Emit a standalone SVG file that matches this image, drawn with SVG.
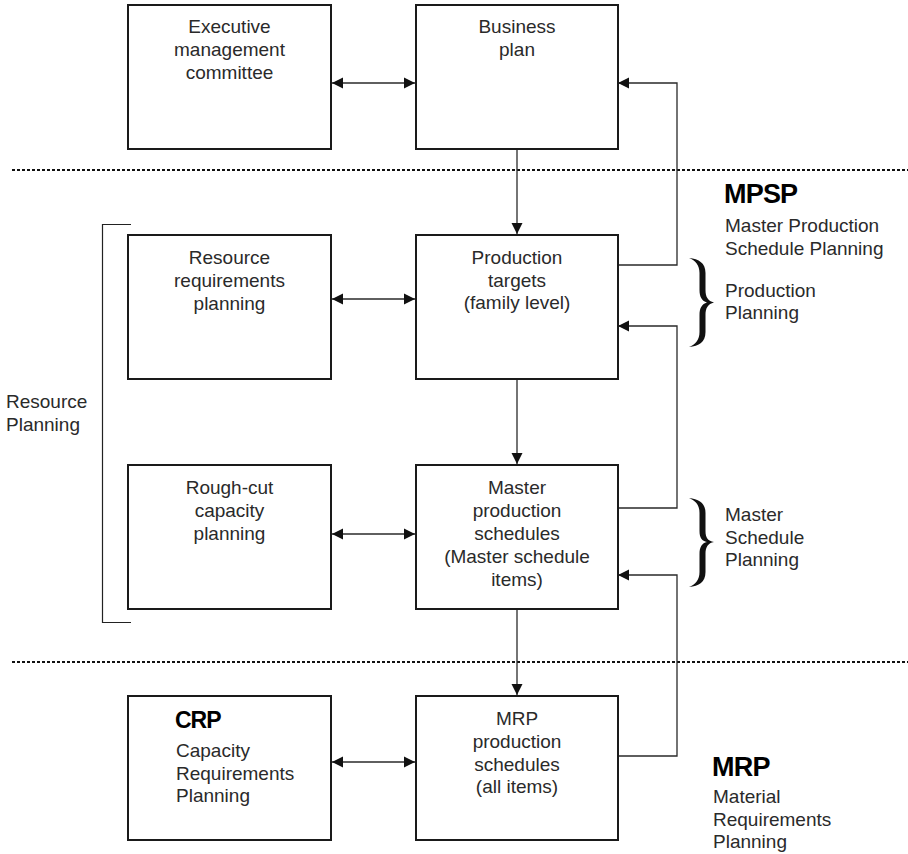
<svg xmlns="http://www.w3.org/2000/svg" width="908" height="854" viewBox="0 0 908 854">
<defs>
<style>
.box{fill:#fff;stroke:#1a1a1a;stroke-width:2}
.t{font-family:"Liberation Sans",Arial,Helvetica,sans-serif;font-size:19px;fill:#2a2a2a}
.c{text-anchor:middle}
.b{font-family:"Liberation Sans",Arial,Helvetica,sans-serif;font-weight:bold;fill:#000}
.ln{fill:none;stroke:#2a2a2a;stroke-width:1.3}
.dot{fill:none;stroke:#111;stroke-width:2;stroke-dasharray:3 2}
.brace{fill:#111}
</style>
<marker id="ah" markerUnits="userSpaceOnUse" markerWidth="12" markerHeight="12" viewBox="0 0 12 12" refX="11" refY="6" orient="auto-start-reverse">
<path d="M0,0.5 L11,6 L0,11.5 Z" fill="#111"/>
</marker>
</defs>
<rect width="908" height="854" fill="#fff"/>

<g id="separators">
<line class="dot" x1="12" y1="170" x2="908" y2="170"/>
<line class="dot" x1="12" y1="662" x2="908" y2="662"/>
</g>

<g id="connectors">
<line class="ln" x1="332" y1="83" x2="415" y2="83" marker-start="url(#ah)" marker-end="url(#ah)"/>
<line class="ln" x1="332" y1="299" x2="415" y2="299" marker-start="url(#ah)" marker-end="url(#ah)"/>
<line class="ln" x1="332" y1="534" x2="415" y2="534" marker-start="url(#ah)" marker-end="url(#ah)"/>
<line class="ln" x1="332" y1="762" x2="415" y2="762" marker-start="url(#ah)" marker-end="url(#ah)"/>
<line class="ln" x1="517" y1="150" x2="517" y2="234" marker-end="url(#ah)"/>
<line class="ln" x1="517" y1="380" x2="517" y2="464" marker-end="url(#ah)"/>
<line class="ln" x1="517" y1="610" x2="517" y2="695" marker-end="url(#ah)"/>
<polyline class="ln" points="618,265 677,265 677,83 618,83" marker-end="url(#ah)"/>
<polyline class="ln" points="618,508 677,508 677,326 618,326" marker-end="url(#ah)"/>
<polyline class="ln" points="618,756 677,756 677,575 618,575" marker-end="url(#ah)"/>
</g>

<g id="exec">
<rect class="box" x="128" y="5" width="203" height="144"/>
<text class="t c" x="229.5" y="33">Executive</text>
<text class="t c" x="229.5" y="56">management</text>
<text class="t c" x="229.5" y="79">committee</text>
</g>

<g id="business-plan">
<rect class="box" x="416" y="5" width="202" height="144"/>
<text class="t c" x="517" y="33">Business</text>
<text class="t c" x="517" y="56">plan</text>
</g>

<g id="resource-req">
<rect class="box" x="128" y="235" width="203" height="144"/>
<text class="t c" x="229.5" y="264">Resource</text>
<text class="t c" x="229.5" y="287">requirements</text>
<text class="t c" x="229.5" y="310">planning</text>
</g>

<g id="production-targets">
<rect class="box" x="416" y="235" width="202" height="144"/>
<text class="t c" x="517" y="264">Production</text>
<text class="t c" x="517" y="286.5">targets</text>
<text class="t c" x="517" y="309">(family level)</text>
</g>

<g id="rough-cut">
<rect class="box" x="128" y="465" width="203" height="144"/>
<text class="t c" x="229.5" y="494">Rough-cut</text>
<text class="t c" x="229.5" y="517">capacity</text>
<text class="t c" x="229.5" y="540">planning</text>
</g>

<g id="master-production">
<rect class="box" x="416" y="465" width="202" height="144"/>
<text class="t c" x="517" y="494">Master</text>
<text class="t c" x="517" y="517">production</text>
<text class="t c" x="517" y="540">schedules</text>
<text class="t c" x="517" y="563">(Master schedule</text>
<text class="t c" x="517" y="586">items)</text>
</g>

<g id="crp">
<rect class="box" x="128" y="696" width="203" height="144"/>
<text class="b" x="175" y="728" font-size="23" letter-spacing="-1">CRP</text>
<text class="t" x="176" y="757">Capacity</text>
<text class="t" x="176" y="780">Requirements</text>
<text class="t" x="176" y="802">Planning</text>
</g>

<g id="mrp-schedules">
<rect class="box" x="416" y="696" width="202" height="144"/>
<text class="t c" x="517" y="725">MRP</text>
<text class="t c" x="517" y="748">production</text>
<text class="t c" x="517" y="770.5">schedules</text>
<text class="t c" x="517" y="793">(all items)</text>
</g>

<g id="resource-planning">
<polyline points="131,224.5 102.5,224.5 102.5,622.5 131,622.5" style="fill:none;stroke:#222;stroke-width:1.2"/>
<text class="t" x="6" y="408">Resource</text>
<text class="t" x="6" y="430.5">Planning</text>
</g>

<g id="mpsp-label">
<text class="b" x="724" y="203" font-size="27" letter-spacing="-0.8">MPSP</text>
<text class="t" x="725" y="232">Master Production</text>
<text class="t" x="725" y="255">Schedule Planning</text>
</g>

<g id="production-planning">
<path class="brace" d="M689,258 C699,259 705.5,263 705.5,273 L705.5,290 C705.5,297 708,301 714,302.5 C708,304 705.5,308 705.5,315 L705.5,332 C705.5,342 699,346 689,347 C695.5,344.5 699.5,340 699.5,332 L699.5,315 C699.5,308 702,304 707,302.5 C702,301 699.5,297 699.5,290 L699.5,273 C699.5,265 695.5,260.5 689,258 Z"/>
<text class="t" x="725" y="297">Production</text>
<text class="t" x="725" y="319">Planning</text>
</g>

<g id="master-schedule-planning">
<path class="brace" d="M689,498 C699,499 705.5,503 705.5,513 L705.5,531 C705.5,538 708,541 714,542 C708,543 705.5,547 705.5,554 L705.5,572 C705.5,582 699,586 689,587 C695.5,584.5 699.5,580 699.5,572 L699.5,554 C699.5,547 702,543 707,542 C702,541 699.5,538 699.5,531 L699.5,513 C699.5,505 695.5,500.5 689,498 Z"/>
<text class="t" x="725" y="521">Master</text>
<text class="t" x="725" y="543.5">Schedule</text>
<text class="t" x="725" y="566">Planning</text>
</g>

<g id="mrp-label">
<text class="b" x="712" y="776" font-size="27" letter-spacing="-0.8">MRP</text>
<text class="t" x="713" y="803">Material</text>
<text class="t" x="713" y="825.5">Requirements</text>
<text class="t" x="713" y="848">Planning</text>
</g>
</svg>
